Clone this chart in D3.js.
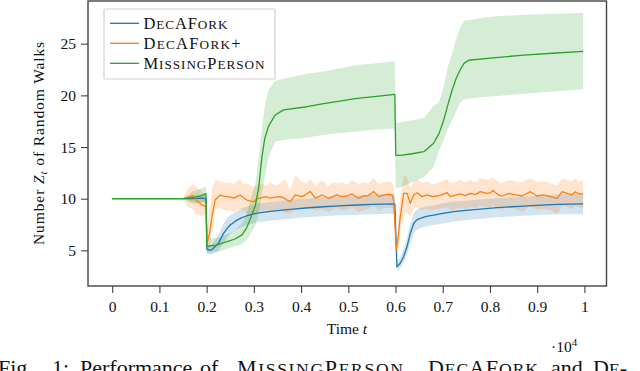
<!DOCTYPE html>
<html>
<head>
<meta charset="utf-8">
<script src="https://cdn.jsdelivr.net/npm/d3@7"></script>
<style>
    body { margin: 0; background: #fff; }
    svg { display: block; font-family: "Liberation Serif", "Times New Roman", serif; }
</style>
</head>
<body>
<div id="canvas"></div>
<script>
// Data (t in raw time steps, axis shows t / 10^4)
const greenT = [0, 1500, 1700, 1900, 1985, 2005, 2200, 2400, 2600, 2750, 2850, 2920, 3030, 3100, 3170, 3230, 3310, 3450, 3630, 4125, 4480, 5185, 5600, 5985, 6005, 6110, 6350, 6600, 6807, 6920, 7020, 7110, 7197, 7290, 7373, 7450, 7550, 8008, 8714, 9400, 9972];
const greenMean = [10, 10, 10.1, 10.3, 10.5, 5.4, 5.5, 5.8, 6.1, 6.5, 7.2, 8.0, 9.3, 11.0, 14.0, 15.8, 17.0, 18.1, 18.6, 18.9, 19.2, 19.7, 19.9, 20.1, 14.2, 14.2, 14.35, 14.55, 15.37, 16.3, 17.6, 19.1, 20.5, 21.7, 22.5, 23.1, 23.4, 23.6, 23.9, 24.1, 24.25];
const greenLo = [10, 10, 9.5, 9.6, 9.7, 4.8, 4.8, 5.1, 5.4, 5.6, 6.0, 6.5, 7.4, 8.5, 10.5, 12.0, 14.0, 15.5, 15.7, 15.9, 16.2, 16.5, 16.7, 16.8, 11.0, 11.1, 11.6, 12.1, 13.1, 14.6, 15.7, 16.8, 17.6, 18.5, 19.3, 19.6, 19.7, 19.9, 20.15, 20.4, 20.6];
const greenHi = [10, 10, 10.7, 11.0, 11.2, 6.2, 6.2, 6.5, 6.9, 7.6, 8.6, 9.8, 11.4, 13.8, 16.6, 19.0, 20.5, 21.4, 21.6, 22.1, 22.3, 22.95, 23.1, 23.3, 17.3, 17.4, 17.6, 17.8, 19.0, 19.3, 20.8, 22.8, 24.0, 25.5, 26.6, 27.2, 27.3, 27.6, 27.8, 27.9, 27.96];

const blueT = [0, 1500, 1700, 1900, 1985, 2005, 2080, 2146, 2252, 2358, 2430, 2500, 2600, 2712, 2850, 3065, 3400, 3770, 4100, 4477, 4800, 5184, 5500, 5985, 6030, 6100, 6172, 6243, 6314, 6385, 6450, 6525, 6650, 6807, 7000, 7230, 7500, 7797, 8150, 8714, 9100, 9422, 9972];
const blueMean = [10, 10, 10.0, 10.05, 10.0, 5.1, 5.0, 5.2, 5.7, 6.65, 7.1, 7.45, 7.8, 8.1, 8.35, 8.6, 8.8, 8.97, 9.1, 9.22, 9.3, 9.39, 9.45, 9.49, 3.4, 3.75, 4.4, 5.35, 6.65, 7.6, 7.95, 8.1, 8.28, 8.4, 8.58, 8.74, 8.88, 9.0, 9.13, 9.29, 9.38, 9.45, 9.49];
const blueLo = [10, 10, 9.7, 9.7, 9.6, 4.7, 4.6, 4.7, 5.0, 5.7, 6.2, 6.6, 6.9, 7.2, 7.45, 7.7, 7.9, 8.05, 8.2, 8.3, 8.4, 8.45, 8.5, 8.55, 3.0, 3.3, 3.8, 4.6, 5.7, 6.6, 7.0, 7.15, 7.3, 7.45, 7.6, 7.8, 7.95, 8.05, 8.2, 8.35, 8.45, 8.5, 8.5];
const blueHi = [10, 10, 10.3, 10.4, 10.4, 5.5, 5.4, 5.8, 6.5, 7.6, 8.1, 8.4, 8.7, 9.0, 9.25, 9.5, 9.7, 9.9, 10.0, 10.15, 10.2, 10.3, 10.4, 10.45, 3.9, 4.3, 5.1, 6.2, 7.6, 8.6, 8.95, 9.1, 9.25, 9.35, 9.55, 9.7, 9.8, 9.95, 10.05, 10.2, 10.3, 10.4, 10.45];

const orangeT = [0, 1500, 1600, 1700, 1750, 1800, 1850, 1900, 1950, 1985, 2010, 2060, 2112, 2182, 2288, 2360, 2430, 2500, 2570, 2640, 2712, 2780, 2854, 2994, 3060, 3135, 3250, 3347, 3450, 3560, 3660, 3770, 3877, 4019, 4100, 4195, 4300, 4370, 4443, 4583, 4670, 4760, 4860, 4972, 5078, 5218, 5324, 5430, 5536, 5642, 5750, 5820, 5925, 5960, 6017, 6060, 6100, 6172, 6243, 6314, 6385, 6455, 6561, 6667, 6780, 6879, 6990, 7091, 7161, 7270, 7373, 7480, 7585, 7700, 7797, 7938, 8008, 8060, 8185, 8256, 8397, 8538, 8680, 8856, 8998, 9138, 9280, 9422, 9528, 9633, 9739, 9809, 9880, 9972];
const orangeMean = [10, 10, 10.1, 10.3, 10.0, 9.7, 9.6, 9.4, 9.3, 9.2, 5.8, 6.6, 8.25, 9.9, 10.35, 10.25, 10.2, 10.15, 10.05, 10.2, 10.36, 10.1, 9.87, 9.7, 10.0, 10.05, 10.2, 10.05, 10.15, 10.2, 10.0, 9.7, 10.36, 10.2, 10.4, 10.7, 10.05, 10.2, 10.36, 10.04, 10.2, 10.36, 10.2, 10.26, 10.46, 10.04, 10.26, 10.3, 10.7, 10.2, 10.35, 10.43, 10.36, 9.87, 5.0, 6.4, 8.25, 10.52, 10.52, 9.55, 10.36, 10.58, 10.2, 10.36, 10.2, 10.26, 10.4, 10.58, 10.2, 10.35, 10.46, 10.3, 10.52, 10.4, 10.68, 10.52, 10.58, 10.8, 10.36, 10.26, 10.52, 10.36, 10.26, 10.68, 10.26, 10.36, 10.2, 10.04, 10.68, 10.52, 10.36, 10.68, 10.46, 10.46];
const orangeLo = [10, 10, 9.2, 9.0, 8.7, 8.5, 8.4, 8.3, 8.4, 8.5, 4.7, 5.2, 6.6, 9.0, 9.1, 8.9, 8.8, 8.9, 8.7, 8.9, 9.0, 8.8, 8.6, 8.4, 8.7, 8.8, 8.9, 8.8, 8.8, 8.9, 8.6, 8.6, 9.0, 9.0, 9.1, 9.2, 8.8, 8.9, 9.0, 8.7, 8.9, 9.1, 8.9, 8.9, 9.2, 8.7, 8.9, 9.0, 9.3, 8.9, 9.1, 9.1, 9.1, 8.8, 4.2, 5.2, 6.5, 8.6, 8.6, 8.3, 9.0, 9.2, 8.9, 9.0, 8.9, 9.0, 9.1, 9.2, 8.9, 9.0, 9.1, 9.0, 9.2, 9.1, 9.3, 9.2, 9.2, 9.4, 9.0, 8.9, 9.2, 9.0, 8.7, 9.3, 8.9, 9.0, 8.9, 8.5, 9.3, 9.2, 9.0, 9.3, 9.1, 9.1];
const orangeHi = [10, 10, 11.0, 11.4, 11.3, 11.0, 10.9, 10.6, 10.5, 10.3, 7.2, 9.0, 10.9, 11.8, 11.7, 11.6, 11.5, 11.6, 11.4, 11.7, 11.9, 11.4, 11.5, 11.1, 11.3, 11.5, 11.3, 11.6, 11.3, 11.5, 11.9, 10.8, 12.3, 11.6, 11.5, 11.9, 11.3, 11.5, 11.8, 11.2, 11.6, 11.5, 11.6, 11.4, 11.8, 11.4, 11.6, 11.5, 12.0, 11.4, 11.6, 11.7, 11.6, 11.2, 6.0, 8.0, 10.2, 12.3, 12.1, 11.0, 11.7, 11.9, 11.5, 11.7, 11.4, 11.5, 11.7, 11.9, 11.5, 11.6, 11.8, 11.6, 11.8, 11.6, 12.0, 11.8, 11.9, 12.1, 11.6, 11.5, 11.8, 11.7, 11.6, 12.0, 11.6, 11.7, 11.5, 11.3, 12.0, 11.8, 11.7, 12.0, 11.7, 11.8];

const xTicks = [0, 1000, 2000, 3000, 4000, 5000, 6000, 7000, 8000, 9000, 10000];
const xTickLabels = ['0', '0.1', '0.2', '0.3', '0.4', '0.5', '0.6', '0.7', '0.8', '0.9', '1'];
const yTicks = [5, 10, 15, 20, 25];

// Constants
const WIDTH = 640;
const HEIGHT = 371;
const LEFT = 88;
const RIGHT = 606.5;
const TOP = 1;
const BOTTOM = 286;
const AXIS_COLOR = '#444';
const SERIF = '"Liberation Serif", "Times New Roman", serif';

const svg = d3.select('#canvas')
    .append('svg').attr('width', WIDTH).attr('height', HEIGHT);

// tick positions, frame is 5% wider than the data
const x = d3.scaleLinear().domain([0, 10000]).range([112.2, 584.4]);
const y = d3.scaleLinear().domain([10, 25]).range([198.7, 43.7]);

const series = [
    { name: ['D', 'ec', 'AF', 'ork'], width: 84, color: '#1f77b4', t: blueT, mean: blueMean, lo: blueLo, hi: blueHi },
    { name: ['D', 'ec', 'AF', 'ork', '+'], width: 97, color: '#ff7f0e', t: orangeT, mean: orangeMean, lo: orangeLo, hi: orangeHi },
    { name: ['M', 'issing', 'P', 'erson'], width: 121, color: '#2ca02c', t: greenT, mean: greenMean, lo: greenLo, hi: greenHi }
];

const area = d3.area()
    .x(d => x(d.t)).y0(d => y(d.lo)).y1(d => y(d.hi));
const line = d3.line()
    .x(d => x(d.t)).y(d => y(d.v));

const plot = svg.append('g');

// Bands first
series.forEach(s => {
    const pts = s.t.map((t, i) => ({ t: t, lo: s.lo[i], hi: s.hi[i] }));
    plot.append('path')
        .attr('d', area(pts))
        .attr('fill', s.color)
        .attr('fill-opacity', 0.2)
        .attr('stroke', 'none');
});

// Then mean lines
series.forEach(s => {
    const pts = s.t.map((t, i) => ({ t: t, v: s.mean[i] }));
    plot.append('path')
        .attr('d', line(pts))
        .attr('fill', 'none')
        .attr('stroke', s.color)
        .attr('stroke-width', 1.3)
        .attr('stroke-linejoin', 'round');
});

// Axes
const xAxis = d3.axisBottom(x)
    .tickValues(xTicks)
    .tickSize(7)
    .tickPadding(8)
    .tickFormat((d, i) => xTickLabels[i]);
const yAxis = d3.axisLeft(y)
    .tickValues(yTicks)
    .tickSize(7)
    .tickPadding(5)
    .tickFormat(d => d);

function styleAxis(g) {
    g.attr('font-family', SERIF).attr('font-size', 15.5);
    g.select('.domain').remove();
    g.selectAll('line').attr('stroke', AXIS_COLOR).attr('stroke-width', 1.1);
    g.selectAll('text').attr('fill', '#111');
}

svg.append('g')
    .attr('transform', `translate(0,${BOTTOM})`)
    .call(xAxis)
    .call(styleAxis);
svg.append('g')
    .attr('transform', `translate(${LEFT},0)`)
    .call(yAxis)
    .call(styleAxis);

// Frame
svg.append('rect')
    .attr('x', LEFT).attr('y', TOP)
    .attr('width', RIGHT - LEFT).attr('height', BOTTOM - TOP)
    .attr('fill', 'none')
    .attr('stroke', AXIS_COLOR)
    .attr('stroke-width', 1.4);

// small caps by hand: even index = capital part, odd index = small part
function smallCaps(parent, parts, size, xPos, yPos, len) {
    const txt = parent.append('text')
        .attr('x', xPos).attr('y', yPos)
        .attr('fill', '#111')
        .style('font-size', size + 'px');
    if (len) txt.attr('textLength', len).attr('lengthAdjust', 'spacing');
    parts.forEach((p, i) => {
        const small = (i % 2 === 1) && p !== '+' && p !== '-';
        txt.append('tspan')
            .text(p.toUpperCase())
            .style('font-size', (small ? size * 0.8 : size) + 'px');
    });
    return txt;
}

// Legend
const legend = svg.append('g');
legend.append('rect')
    .attr('x', 104).attr('y', 9)
    .attr('width', 171).attr('height', 70)
    .attr('rx', 1)
    .attr('fill', 'white')
    .attr('stroke', '#cfcfcf')
    .attr('stroke-width', 1.2);

series.forEach((s, i) => {
    const cy = 23.3 + i * 20;
    legend.append('line')
        .attr('x1', 110).attr('x2', 139)
        .attr('y1', cy).attr('y2', cy)
        .attr('stroke', s.color)
        .attr('stroke-width', 1.3);
    smallCaps(legend, s.name, 16.5, 143.5, cy + 6, s.width);
});

// Axis labels
const yLabel = svg.append('text')
    .attr('transform', 'translate(44,143) rotate(-90)')
    .attr('text-anchor', 'middle')
    .attr('fill', '#111')
    .style('font-size', '15.5px')
    .style('letter-spacing', '0.9px');
yLabel.append('tspan').text('Number ');
yLabel.append('tspan').text('Z').style('font-style', 'italic');
yLabel.append('tspan').text('t').style('font-style', 'italic')
    .style('font-size', '11px').attr('dy', 3);
yLabel.append('tspan').text(' of Random Walks').attr('dy', -3);

const xLabel = svg.append('text')
    .attr('x', 347).attr('y', 334)
    .attr('text-anchor', 'middle')
    .attr('fill', '#111')
    .style('font-size', '15.5px');
xLabel.append('tspan').text('Time ');
xLabel.append('tspan').text('t').style('font-style', 'italic');

const expLabel = svg.append('text')
    .attr('x', 551).attr('y', 352)
    .attr('fill', '#111')
    .style('font-size', '15.5px');
expLabel.append('tspan').text('\u00B710');
expLabel.append('tspan').text('4').attr('dy', -6).style('font-size', '11px');

// Caption (justified line, its lower part is cut by the bottom edge)
const CAP = 22;
const CAP_Y = 375;
const capWord = (txt, xPos) => svg.append('text')
    .attr('x', xPos).attr('y', CAP_Y)
    .attr('fill', '#111')
    .style('font-size', CAP + 'px')
    .text(txt);
capWord('Fig.', -2);
capWord('1:', 52);
capWord('Performance', 80);
capWord('of', 200);
smallCaps(svg, ['M', 'issing', 'P', 'erson'], CAP, 237, CAP_Y, 166);
capWord(',', 405);
smallCaps(svg, ['D', 'ec', 'AF', 'ork'], CAP, 428, CAP_Y, 110);
capWord('and', 551);
smallCaps(svg, ['D', 'e', '-'], CAP, 593, CAP_Y, null);
</script>
</body>
</html>
